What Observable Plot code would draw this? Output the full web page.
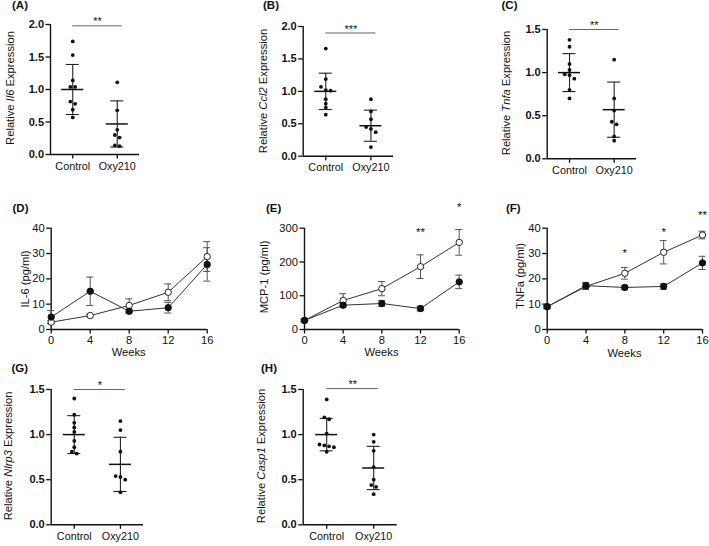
<!DOCTYPE html>
<html><head><meta charset="utf-8">
<script src="https://cdn.jsdelivr.net/npm/d3@7"></script>
<script src="https://cdn.jsdelivr.net/npm/@observablehq/plot@0.6"></script>
<style>
body{margin:0;background:#fff;}
#fig{position:relative;width:709px;height:546px;overflow:hidden;font-family:"Liberation Sans",Arial,sans-serif;color:#111;}
.panel{position:absolute;}
.lab{position:absolute;font-weight:bold;font-size:11.5px;line-height:1;}
.yt{position:absolute;font-size:11.2px;line-height:1;white-space:nowrap;transform:translate(-50%,-50%) rotate(-90deg);}
.xt{position:absolute;font-size:11.2px;line-height:1;white-space:nowrap;transform:translate(-50%,-50%);}
</style></head>
<body><div id="fig"></div>
<script>
const groups = ["Control", "Oxy210"];
const weeks = [0, 4, 8, 12, 16];

// (A) Il6 expression
const il6Control = [1.74, 1.53, 1.14, 1.04, 1.04, 0.815, 0.78, 0.69, 0.57];
const il6Oxy = [1.11, 0.68, 0.38, 0.30, 0.26, 0.13, 0.14];
const il6Mean = [1.0, 0.47];
const il6Sd = [0.385, 0.355];
// (B) Ccl2 expression
const ccl2Control = [1.66, 1.19, 1.07, 1.01, 1.02, 0.88, 0.81, 0.75, 0.64];
const ccl2Oxy = [0.88, 0.69, 0.57, 0.42, 0.45, 0.37, 0.14];
const ccl2Mean = [1.0, 0.47];
const ccl2Sd = [0.28, 0.24];
// (C) Tnfa expression
const tnfaControl = [1.38, 1.30, 1.10, 1.03, 0.98, 0.97, 0.93, 0.80, 0.70];
const tnfaOxy = [1.15, 0.70, 0.56, 0.43, 0.40, 0.26, 0.21];
const tnfaMean = [1.0, 0.57];
const tnfaSd = [0.22, 0.32];
// (G) Nlrp3 expression
const nlrp3Control = [1.40, 1.22, 1.13, 1.08, 1.03, 0.93, 0.86, 0.81, 0.79];
const nlrp3Oxy = [1.15, 1.05, 0.81, 0.54, 0.53, 0.50, 0.36];
const nlrp3Mean = [1.0, 0.67];
const nlrp3Sd = [0.21, 0.30];
// (H) Casp1 expression
const casp1Control = [1.39, 1.19, 1.17, 1.01, 0.89, 0.88, 0.87, 0.86, 0.81];
const casp1Oxy = [1.00, 0.92, 0.82, 0.64, 0.50, 0.44, 0.42, 0.34];
const casp1Mean = [1.0, 0.63];
const casp1Sd = [0.18, 0.24];

// (D) IL-6 serum (pg/ml)
const il6SerumControl = [2.9, 5.5, 9.5, 14.7, 28.8];
const il6SerumControlErr = [0.6, 0.5, 2.6, 3.3, 5.9];
const il6SerumOxy = [4.9, 15.1, 7.2, 8.6, 25.7];
const il6SerumOxyErr = [2.6, 5.6, 0.8, 2.1, 6.6];
// (E) MCP-1 serum (pg/ml)
const mcpControl = [27, 86, 121, 186, 258];
const mcpControlErr = [3, 20, 21, 35, 38];
const mcpOxy = [27, 72, 77, 62, 141];
const mcpOxyErr = [4, 6, 9, 7, 20];
const mcpStars = [{wk: 12, y: 295, label: "**"}, {wk: 16, y: 367, label: "*"}];
// (F) TNFa serum (pg/ml)
const tnfControl = [9.0, 17.0, 22.2, 30.5, 37.3];
const tnfControlErr = [0.8, 1.2, 2.3, 4.6, 1.5];
const tnfOxy = [9.0, 17.3, 16.6, 17.0, 26.3];
const tnfOxyErr = [0.5, 1.3, 0.8, 1.1, 2.6];
const tnfStars = [{wk: 8, y: 30.9, label: "*"}, {wk: 12, y: 39.1, label: "*"}, {wk: 16, y: 45.9, label: "**"}];

const FONT = '"Liberation Sans", Arial, sans-serif';
const fig = document.getElementById("fig");

function place(node, left, top) {
  const d = document.createElement("div");
  d.className = "panel";
  d.style.left = left + "px"; d.style.top = top + "px";
  d.appendChild(node);
  fig.appendChild(d);
}
function html(cls, left, top, content) {
  const d = document.createElement("div");
  d.className = cls;
  d.style.left = left + "px"; d.style.top = top + "px";
  d.innerHTML = content;
  fig.appendChild(d);
}

function dotPanel(c) {
  const plotW = c.w - c.mL - c.mR, plotH = c.h - c.mT - c.mB;
  const pxX = plotW / 2, pxY = plotH / c.ymax;
  const pts = [];
  [c.ctrl, c.oxy].forEach((vals, gi) => {
    const sorted = vals.slice().sort((a, b) => b - a);
    const clusters = [];
    sorted.forEach(v => {
      const last = clusters[clusters.length - 1];
      if (last && (last[last.length - 1] - v) * pxY < 3.6) last.push(v); else clusters.push([v]);
    });
    clusters.forEach(cl => cl.forEach((v, i) => pts.push({x: gi + (i - (cl.length - 1) / 2) * 4.8 / pxX, y: v})));
  });
  const summ = groups.map((g, i) => ({x: i, mean: c.mean[i], lo: c.mean[i] - c.sd[i], hi: c.mean[i] + c.sd[i]}));
  const capH = 6.5 / pxX, meanH = 11 / pxX;
  const sig = [{x1: 0, x2: 1 + 5 / pxX, y: c.sigY, label: c.sigLabel}];
  return Plot.plot({
    width: c.w, height: c.h, marginLeft: c.mL, marginRight: c.mR, marginTop: c.mT, marginBottom: c.mB,
    style: {fontFamily: FONT, fontSize: "10.8px", overflow: "visible", background: "transparent", color: "#111"},
    x: {domain: [-0.5, 1.5], axis: null},
    y: {domain: [0, c.ymax], axis: null},
    marks: [
      Plot.axisY({ticks: c.yticks, tickFormat: d3.format(".1f"), tickSize: 4.5, tickPadding: 2, fontWeight: "bold", fontSize: 11, label: null, strokeWidth: 1.3}),
      Plot.axisX({ticks: [0, 1], tickFormat: i => groups[i], tickSize: 4.5, tickPadding: 3, label: null, strokeWidth: 1.3}),
      Plot.ruleX([-0.5], {stroke: "#111", strokeWidth: 1.4}),
      Plot.ruleY([0], {stroke: "#111", strokeWidth: 1.4}),
      Plot.ruleX(summ, {x: "x", y1: "lo", y2: "hi", stroke: "#222", strokeWidth: 1.1}),
      Plot.ruleY(summ, {y: "hi", x1: d => d.x - capH, x2: d => d.x + capH, stroke: "#222", strokeWidth: 1.1}),
      Plot.ruleY(summ, {y: "lo", x1: d => d.x - capH, x2: d => d.x + capH, stroke: "#222", strokeWidth: 1.1}),
      Plot.ruleY(summ, {y: "mean", x1: d => d.x - meanH, x2: d => d.x + meanH, stroke: "#111", strokeWidth: 1.5}),
      Plot.dot(pts, {x: "x", y: "y", r: 1.9, fill: "#111", stroke: "none"}),
      Plot.ruleY(sig, {y: "y", x1: "x1", x2: "x2", stroke: "#666", strokeWidth: 1}),
      Plot.text(sig, {x: d => (d.x1 + d.x2) / 2, y: "y", text: "label", dy: -4, lineAnchor: "middle", fontSize: 11, fill: "#111"})
    ]
  });
}

function linePanel(c) {
  const plotW = c.w - c.mL - c.mR;
  const pxX = plotW / 16;
  const rows = [];
  weeks.forEach((wk, i) => {
    rows.push({wk, v: c.ctrl[i], e: c.ctrlErr[i], s: "Control"});
    rows.push({wk, v: c.oxy[i], e: c.oxyErr[i], s: "Oxy210"});
  });
  const cap = 3.5 / pxX;
  return Plot.plot({
    width: c.w, height: c.h, marginLeft: c.mL, marginRight: c.mR, marginTop: c.mT, marginBottom: c.mB,
    style: {fontFamily: FONT, fontSize: "10.8px", overflow: "visible", background: "transparent", color: "#111"},
    x: {domain: [0, 16], axis: null},
    y: {domain: [0, c.ymax], axis: null},
    marks: [
      Plot.axisY({ticks: c.yticks, tickSize: 4.5, tickPadding: 2, fontSize: 11.2, label: null, strokeWidth: 1.3}),
      Plot.axisX({ticks: weeks, tickSize: 4.5, tickPadding: 2, fontSize: 11.2, label: null, strokeWidth: 1.3}),
      Plot.ruleX([0], {stroke: "#111", strokeWidth: 1.4}),
      Plot.ruleY([0], {stroke: "#111", strokeWidth: 1.4}),
      Plot.line(rows, {x: "wk", y: "v", z: "s", stroke: "#333", strokeWidth: 1}),
      Plot.ruleX(rows, {x: "wk", y1: d => d.v - d.e, y2: d => d.v + d.e, stroke: "#555", strokeWidth: 1}),
      Plot.ruleY(rows, {y: d => d.v + d.e, x1: d => d.wk - cap, x2: d => d.wk + cap, stroke: "#555", strokeWidth: 1}),
      Plot.ruleY(rows, {y: d => d.v - d.e, x1: d => d.wk - cap, x2: d => d.wk + cap, stroke: "#555", strokeWidth: 1}),
      Plot.dot(rows.filter(d => d.s === "Control"), {x: "wk", y: "v", r: 3.2, fill: "white", stroke: "#222", strokeWidth: 1}),
      Plot.dot(rows.filter(d => d.s === "Oxy210"), {x: "wk", y: "v", r: 3.2, fill: "#111", stroke: "#111", strokeWidth: 1}),
      Plot.text(c.stars || [], {x: "wk", y: "y", text: "label", lineAnchor: "middle", dy: 2, fontSize: 11.5, fill: "#111"})
    ]
  });
}

// Row 1
place(dotPanel({w: 230, h: 180, mL: 50, mR: 91, mT: 24, mB: 26, ymax: 2, yticks: [0, 0.5, 1, 1.5, 2],
  ctrl: il6Control, oxy: il6Oxy, mean: il6Mean, sd: il6Sd, sigY: 1.98, sigLabel: "**"}), 0, 0);
place(dotPanel({w: 230, h: 180, mL: 72.7, mR: 67, mT: 26, mB: 24.3, ymax: 2, yticks: [0, 0.5, 1, 1.5, 2],
  ctrl: ccl2Control, oxy: ccl2Oxy, mean: ccl2Mean, sd: ccl2Sd, sigY: 1.9, sigLabel: "***"}), 230, 0);
place(dotPanel({w: 249, h: 180, mL: 86.7, mR: 73, mT: 29, mB: 21.7, ymax: 1.5, yticks: [0, 0.5, 1, 1.5],
  ctrl: tnfaControl, oxy: tnfaOxy, mean: tnfaMean, sd: tnfaSd, sigY: 1.5, sigLabel: "**"}), 460, 0);
// Row 2
place(linePanel({w: 230, h: 185, mL: 50.7, mR: 23.3, mT: 47.7, mB: 36, ymax: 40, yticks: [0, 10, 20, 30, 40],
  ctrl: il6SerumControl, ctrlErr: il6SerumControlErr, oxy: il6SerumOxy, oxyErr: il6SerumOxyErr}), 0, 180);
place(linePanel({w: 230, h: 185, mL: 74, mR: 1.3, mT: 47.7, mB: 36, ymax: 300, yticks: [0, 100, 200, 300],
  ctrl: mcpControl, ctrlErr: mcpControlErr, oxy: mcpOxy, oxyErr: mcpOxyErr, stars: mcpStars}), 230, 180);
place(linePanel({w: 249, h: 185, mL: 86.7, mR: 7, mT: 47.7, mB: 36, ymax: 40, yticks: [0, 10, 20, 30, 40],
  ctrl: tnfControl, ctrlErr: tnfControlErr, oxy: tnfOxy, oxyErr: tnfOxyErr, stars: tnfStars}), 460, 180);
// Row 3
place(dotPanel({w: 230, h: 181, mL: 50.7, mR: 87, mT: 24, mB: 21.7, ymax: 1.5, yticks: [0, 0.5, 1, 1.5],
  ctrl: nlrp3Control, oxy: nlrp3Oxy, mean: nlrp3Mean, sd: nlrp3Sd, sigY: 1.5, sigLabel: "*"}), 0, 365);
place(dotPanel({w: 230, h: 181, mL: 72.7, mR: 63.3, mT: 24, mB: 21.7, ymax: 1.5, yticks: [0, 0.5, 1, 1.5],
  ctrl: casp1Control, oxy: casp1Oxy, mean: casp1Mean, sd: casp1Sd, sigY: 1.51, sigLabel: "**"}), 230, 365);

// Panel letters
html("lab", 12, 0, "(A)");
html("lab", 263, 0, "(B)");
html("lab", 501.5, 0, "(C)");
html("lab", 12.5, 203, "(D)");
html("lab", 266, 203, "(E)");
html("lab", 506, 203, "(F)");
html("lab", 11.5, 363, "(G)");
html("lab", 261, 363, "(H)");

// Axis titles
html("yt", 10.5, 88, "Relative <i>Il6</i> Expression");
html("yt", 264, 91, "Relative <i>Ccl2</i> Expression");
html("yt", 507, 93, "Relative <i>Tnfa</i> Expression");
html("yt", 26, 279, "IL-6 (pg/ml)");
html("yt", 264.5, 277, "MCP-1 (pg/ml)");
html("yt", 521, 276, "TNFa (pg/ml)");
html("yt", 8.5, 456, "Relative <i>Nlrp3</i> Expression");
html("yt", 262, 456, "Relative <i>Casp1</i> Expression");
html("xt", 128.7, 353, "Weeks");
html("xt", 381.5, 353, "Weeks");
html("xt", 624.5, 353.5, "Weeks");
</script>
</body></html>
